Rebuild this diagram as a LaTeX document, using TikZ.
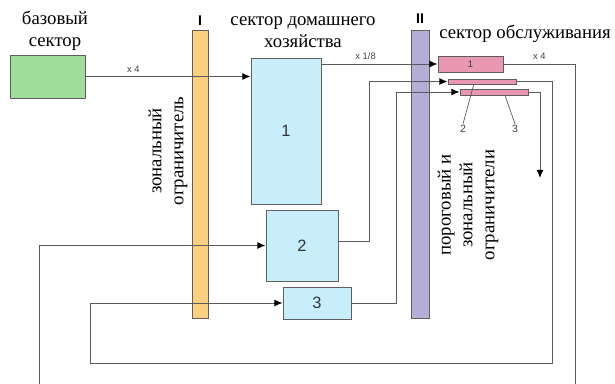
\documentclass[tikz,border=0pt]{standalone}
\usepackage{fontspec}
\setmainfont{Liberation Serif}
\setsansfont{Liberation Sans}
\usepackage{xcolor}
\usepackage{tikz}
\usetikzlibrary{arrows.meta, calc, positioning}

\definecolor{basegreen}{RGB}{160,222,158}
\definecolor{barorange}{RGB}{250,208,128}
\definecolor{hhblue}{RGB}{200,238,252}
\definecolor{barpurple}{RGB}{180,174,214}
\definecolor{srvpink}{RGB}{232,152,176}
\definecolor{linegray}{RGB}{90,90,90}
\definecolor{boxgray}{RGB}{95,95,95}

\newlength\px
\setlength\px{0.03cm}

\begin{document}
\begin{tikzpicture}[x=\px, y=-\px, >={Latex[length=7pt,width=6pt,color=black]},
    conn/.style={draw=linegray, line width=0.85pt},
    box/.style={draw=boxgray, line width=0.85pt, inner sep=0pt, text=black!80,
        font=\sffamily\fontsize{14}{14}\selectfont},
    lbl/.style={text=black!75, inner sep=1pt, font=\sffamily\fontsize{8}{8}\selectfont},
    title/.style={align=center, inner sep=0pt, font=\rmfamily\fontsize{16}{18.7}\selectfont}]
    % Поле рисунка
    \clip (0,0) rectangle (615,383);

    % Секторы и ограничители
    \node[box, fill=basegreen, minimum width=75\px, minimum height=43\px] (base) at (47.5,76.5) {};
    \node[box, fill=barorange, minimum width=16\px, minimum height=288\px] (zone) at (200,174) {};
    \node[box, fill=hhblue, minimum width=70\px, minimum height=146\px] (hh1) at (286,131) {1};
    \node[box, fill=hhblue, minimum width=72\px, minimum height=71\px] (hh2) at (302,245.5) {2};
    \node[box, fill=hhblue, minimum width=68\px, minimum height=32\px] (hh3) at (317,303) {3};
    \node[box, fill=barpurple, minimum width=18\px, minimum height=288\px] (thr) at (420,174) {};
    \node[box, fill=srvpink, minimum width=65\px, minimum height=16\px,
        font=\sffamily\fontsize{8}{8}\selectfont] (srv1) at (470.5,64) {1};
    \node[box, fill=srvpink, minimum width=68\px, minimum height=5\px] (srv2) at (482,81.5) {};
    \node[box, fill=srvpink, minimum width=68\px, minimum height=6\px] (srv3) at (494,92) {};

    % Подписи
    \node[title] (tbase) at (55,31) {базовый\\сектор};
    \node[title] (thh) at (303,32) {сектор домашнего\\хозяйства};
    \node[title] (tsrv) at (525,34) {сектор обслуживания};
    \node[title, rotate=90] (tzone) at (168,151) {зональный\\ограничитель};
    \node[title, rotate=90] (tthr) at (468,205) {пороговый и\\зональный\\ограничители};
    \node[font=\sffamily\bfseries\fontsize{12}{12}\selectfont, inner sep=0pt, above=4\px of zone] (nI) {I};
    \node[font=\sffamily\bfseries\fontsize{12}{12}\selectfont, inner sep=0pt, above=6\px of thr] (nII) {II};

    % Связи
    \draw[conn, ->] (base.east) -- (base.east -| hh1.west) node[lbl, pos=0.29, above=2pt] {x 4};
    \draw[conn, ->] (srv1.west -| hh1.east) -- (srv1.west) node[lbl, pos=0.38, above=2pt] {x 1/8};
    \draw[conn, ->] ($(hh2.east)+(0,-4)$) -- ++(31,0) |- (srv2.west);
    \draw[conn, ->] (hh3.east) -- ++(45,0) |- (srv3.west);
    \draw[conn, ->] (srv1.east) -| (575,395) node[lbl, pos=0.25, above=2pt] {x 4}
        -- (39,395) |- (hh2.west);
    \draw[conn, ->] (srv2.east) -| (552,363) -- (90,363) |- (hh3.west);
    \coordinate (out) at (540,178);
    \draw[conn, ->] (srv3.east) -| (out);

    % Выноски 2 и 3
    \node[lbl, font=\sffamily\fontsize{9}{9}\selectfont] (n2) at (463,129) {2};
    \node[lbl, font=\sffamily\fontsize{9}{9}\selectfont] (n3) at (515,129) {3};
    \draw[conn, line width=0.6pt] (n2.north) -- ($(srv2.south west)!0.38!(srv2.south east)$);
    \draw[conn, line width=0.6pt] (n3.north) -- ($(srv3.south west)!0.66!(srv3.south east)$);
\end{tikzpicture}
\end{document}
